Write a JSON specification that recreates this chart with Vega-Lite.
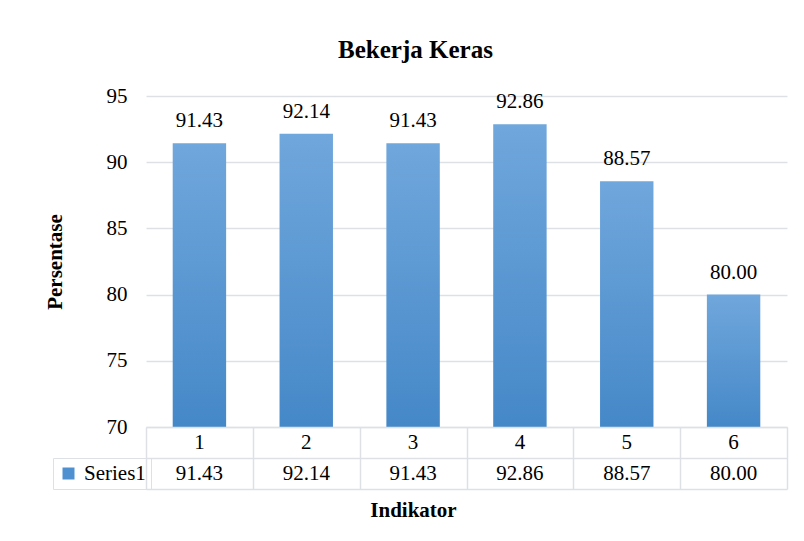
{
  "$schema": "https://vega.github.io/schema/vega-lite/v6.json",
  "padding": {"left": 44, "top": 38, "right": 5, "bottom": 5},
  "background": "white",
  "title": {
    "text": "Bekerja Keras",
    "font": "Liberation Serif, Times New Roman, serif",
    "fontSize": 25,
    "fontWeight": "bold",
    "color": "#000000",
    "anchor": "middle",
    "frame": "bounds",
    "offset": 22
  },
  "datasets": {
    "bk": [
      {"indikator": "1", "series": "Series1", "nilai": 91.43},
      {"indikator": "2", "series": "Series1", "nilai": 92.14},
      {"indikator": "3", "series": "Series1", "nilai": 91.43},
      {"indikator": "4", "series": "Series1", "nilai": 92.86},
      {"indikator": "5", "series": "Series1", "nilai": 88.57},
      {"indikator": "6", "series": "Series1", "nilai": 80.00}
    ]
  },
  "config": {
    "view": {"stroke": null},
    "font": "Liberation Serif, Times New Roman, serif",
    "text": {"font": "Liberation Serif, Times New Roman, serif", "fontSize": 21, "color": "#000000"}
  },
  "resolve": {"legend": {"fill": "independent"}},
  "spacing": 0,
  "bounds": "flush",
  "vconcat": [
    {
      "width": 641,
      "height": 331,
      "data": {"name": "bk"},
      "encoding": {
        "x": {
          "field": "indikator",
          "type": "nominal",
          "sort": null,
          "scale": {"paddingInner": 0.5, "paddingOuter": 0.25},
          "axis": null
        },
        "y": {
          "field": "nilai",
          "type": "quantitative",
          "scale": {"domain": [70, 95], "nice": false, "zero": false},
          "axis": {
            "values": [70, 75, 80, 85, 90, 95],
            "grid": true,
            "gridColor": "#dde1e6",
            "gridWidth": 1.5,
            "domain": false,
            "ticks": false,
            "labelFont": "Liberation Serif, Times New Roman, serif",
            "labelFontSize": 21,
            "labelColor": "#000000",
            "labelPadding": 19,
            "title": "Persentase",
            "titleFont": "Liberation Serif, Times New Roman, serif",
            "titleFontSize": 21,
            "titleFontWeight": "bold",
            "titleColor": "#000000",
            "titlePadding": 41
          }
        }
      },
      "layer": [
        {
          "mark": {
            "type": "bar",
            "color": {
              "gradient": "linear",
              "x1": 0, "y1": 0, "x2": 0, "y2": 1,
              "stops": [
                {"offset": 0, "color": "#70a7dc"},
                {"offset": 1, "color": "#4588c8"}
              ]
            }
          },
          "encoding": {
            "y2": {"datum": 70}
          }
        },
        {
          "mark": {"type": "text", "baseline": "alphabetic", "dy": -16, "font": "Liberation Serif, Times New Roman, serif", "fontSize": 21},
          "encoding": {
            "text": {"field": "nilai", "type": "quantitative", "format": ".2f"}
          }
        }
      ]
    },
    {
      "width": 641,
      "height": 62,
      "data": {"name": "bk"},
      "encoding": {
        "x": {
          "field": "indikator",
          "type": "nominal",
          "sort": null,
          "scale": {"type": "band", "paddingInner": 0, "paddingOuter": 0},
          "axis": {
            "grid": true,
            "tickBand": "extent",
            "gridColor": "#dde1e6",
            "gridWidth": 1.5,
            "labels": false,
            "ticks": false,
            "domain": false,
            "title": "Indikator",
            "titleFont": "Liberation Serif, Times New Roman, serif",
            "titleFontSize": 21,
            "titleFontWeight": "bold",
            "titleColor": "#000000",
            "titlePadding": 10,
            "titleX": 267
          }
        }
      },
      "layer": [
        {
          "mark": {"type": "text", "baseline": "middle", "font": "Liberation Serif, Times New Roman, serif", "fontSize": 21},
          "encoding": {
            "y": {
              "datum": "head",
              "type": "nominal",
              "scale": {"type": "band", "domain": ["head", "Series1"], "paddingInner": 0, "paddingOuter": 0},
              "axis": {
                "grid": true,
                "tickBand": "extent",
                "gridColor": "#dde1e6",
                "gridWidth": 1.5,
                "labels": false,
                "ticks": false,
                "domain": false,
                "title": null
              }
            },
            "text": {"field": "indikator", "type": "nominal"}
          }
        },
        {
          "mark": {"type": "text", "baseline": "middle", "font": "Liberation Serif, Times New Roman, serif", "fontSize": 21},
          "encoding": {
            "y": {"datum": "Series1", "type": "nominal"},
            "text": {"field": "nilai", "type": "quantitative", "format": ".2f"}
          }
        },
        {
          "mark": {"type": "square", "opacity": 0},
          "encoding": {
            "y": {"datum": "Series1", "type": "nominal"},
            "fill": {
              "field": "series",
              "type": "nominal",
              "scale": {"range": ["#4f90d0"]},
              "legend": {
                "orient": "none",
                "legendX": -93,
                "legendY": 31,
                "title": null,
                "strokeColor": "#dde1e6",
                "padding": 5,
                "symbolType": "square",
                "symbolSize": 144,
                "symbolOpacity": 1,
                "symbolStrokeWidth": 0,
                "labelFont": "Liberation Serif, Times New Roman, serif",
                "labelFontSize": 21,
                "labelColor": "#000000",
                "labelOffset": 5
              }
            }
          }
        }
      ]
    }
  ]
}
